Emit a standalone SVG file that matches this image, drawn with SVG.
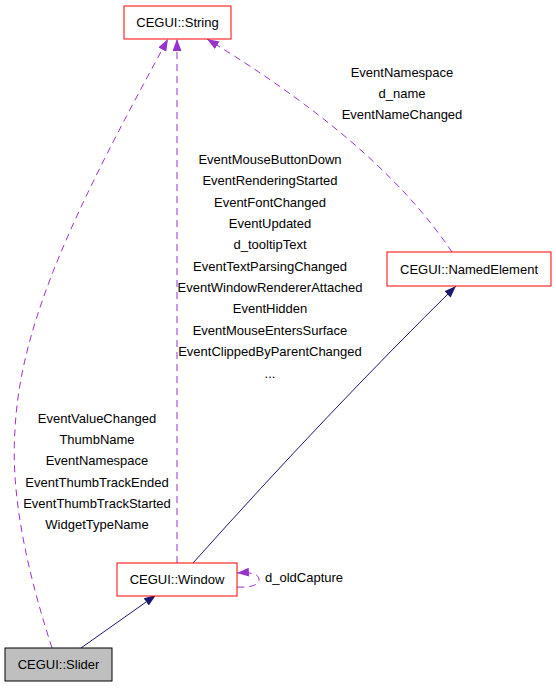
<svg xmlns="http://www.w3.org/2000/svg" width="556" height="688" viewBox="0 0 556 688">
<style>
text{font-family:"Liberation Sans",Arial,sans-serif;font-size:13px;fill:#000}
.c{text-anchor:middle}
.node rect{fill:#fff;stroke:#ff0000;stroke-width:1}
#n_slider rect{fill:#bfbfbf;stroke:#000}
.dep{fill:none;stroke:#9a32cd;stroke-width:1;stroke-dasharray:7,5}
.inh{fill:none;stroke:#191970;stroke-width:1}
</style>
<defs>
<marker id="ap" markerUnits="userSpaceOnUse" markerWidth="14" markerHeight="11" refX="12" refY="4.5" orient="auto"><path d="M0,0 L12,4.5 L0,9 z" fill="#9a32cd"/></marker>
<marker id="an" markerUnits="userSpaceOnUse" markerWidth="14" markerHeight="11" refX="12" refY="4.5" orient="auto"><path d="M0,0 L12,4.5 L0,9 z" fill="#191970"/></marker>
</defs>
<rect width="556" height="688" fill="#fff"/>
<g id="edges">
<path class="dep" d="M52,648 C30,580 10,500 15,430 C20,320 80,200 168,39" marker-end="url(#ap)"/>
<path class="dep" d="M177,563 L177,39" marker-end="url(#ap)"/>
<path class="dep" d="M452,252 C410,190 340,120 207,39" marker-end="url(#ap)"/>
<path class="dep" d="M237,587 C252,588 260,584 259,579 C258,574 252,572 237,573" marker-end="url(#ap)"/>
<path class="inh" d="M81,648 L156,595" marker-end="url(#an)"/>
<path class="inh" d="M193,563 Q330,410 456,286" marker-end="url(#an)"/>
<g id="labels">
<text class="c" x="402" y="77">EventNamespace</text>
<text class="c" x="402" y="98">d_name</text>
<text class="c" x="402" y="119">EventNameChanged</text>
<text class="c" x="270" y="164">EventMouseButtonDown</text>
<text class="c" x="270" y="185">EventRenderingStarted</text>
<text class="c" x="270" y="207">EventFontChanged</text>
<text class="c" x="270" y="228">EventUpdated</text>
<text class="c" x="270" y="249">d_tooltipText</text>
<text class="c" x="270" y="271">EventTextParsingChanged</text>
<text class="c" x="270" y="292">EventWindowRendererAttached</text>
<text class="c" x="270" y="313">EventHidden</text>
<text class="c" x="270" y="335">EventMouseEntersSurface</text>
<text class="c" x="270" y="356">EventClippedByParentChanged</text>
<text class="c" x="270" y="378">...</text>
<text class="c" x="97" y="423">EventValueChanged</text>
<text class="c" x="97" y="444">ThumbName</text>
<text class="c" x="97" y="465">EventNamespace</text>
<text class="c" x="97" y="487">EventThumbTrackEnded</text>
<text class="c" x="97" y="508">EventThumbTrackStarted</text>
<text class="c" x="97" y="529">WidgetTypeName</text>
<text x="265" y="582">d_oldCapture</text>
</g>
</g>
<g id="n_string" class="node"><rect x="124" y="6" width="107" height="33"/><text class="c" x="177.5" y="27">CEGUI::String</text></g>
<g id="n_named" class="node"><rect x="387" y="252" width="164" height="34"/><text class="c" x="469" y="274">CEGUI::NamedElement</text></g>
<g id="n_window" class="node"><rect x="117" y="563" width="120" height="33"/><text class="c" x="177" y="584">CEGUI::Window</text></g>
<g id="n_slider" class="node"><rect x="5" y="648" width="107" height="33"/><text class="c" x="58.5" y="669">CEGUI::Slider</text></g>
</svg>
